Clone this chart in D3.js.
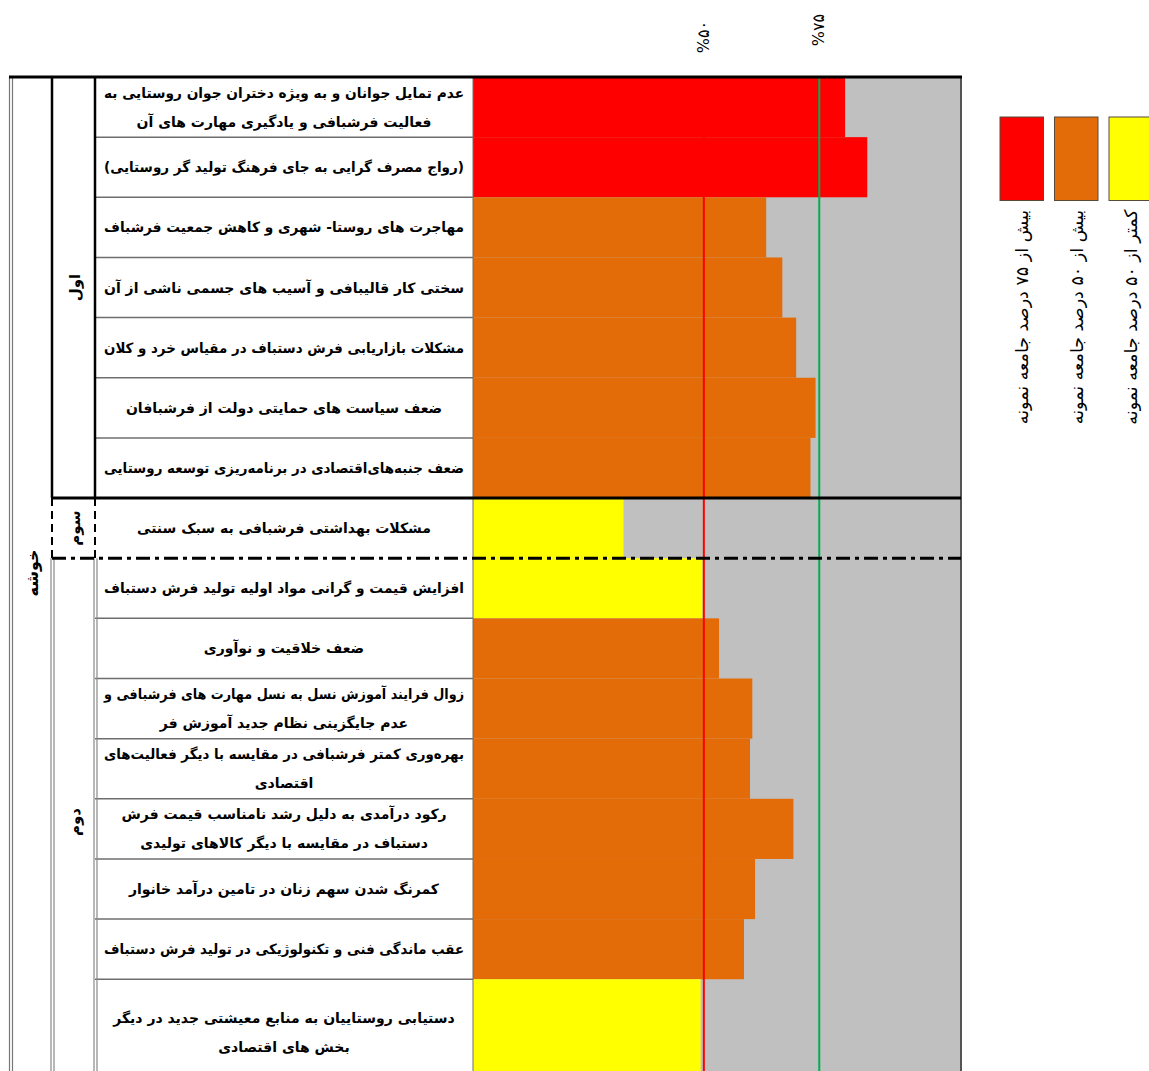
<!DOCTYPE html>
<html lang="fa">
<head>
<meta charset="utf-8">
<title>موانع فرشبافی روستایی</title>
<script src="https://cdn.jsdelivr.net/npm/d3@7"></script>
<style>
  body { margin: 0; background: #fff; }
  svg { display: block; }
  text { font-family: "DejaVu Sans", sans-serif; }
</style>
</head>
<body>
<div id="chart"></div>
<script>
// row labels (already split into lines as in the source table)
const labels = [
    ["عدم تمایل جوانان و به ویژه دختران جوان روستایی به", "فعالیت فرشبافی و یادگیری مهارت های آن"],
    ["(رواج مصرف گرایی به جای فرهنگ تولید گر روستایی)"],
    ["مهاجرت های روستا- شهری و کاهش جمعیت فرشباف"],
    ["سختی کار قالیبافی و آسیب های جسمی ناشی از آن"],
    ["مشکلات بازاریابی فرش دستباف در مقیاس خرد و کلان"],
    ["ضعف سیاست های حمایتی دولت از فرشبافان"],
    ["ضعف جنبه‌های‌اقتصادی در برنامه‌ریزی توسعه روستایی"],
    ["مشکلات بهداشتی فرشبافی به سبک سنتی"],
    ["افزایش قیمت و گرانی مواد اولیه تولید فرش دستباف"],
    ["ضعف خلاقیت و نوآوری"],
    ["زوال فرایند آموزش نسل به نسل مهارت های فرشبافی و", "عدم جایگزینی نظام جدید آموزش فر"],
    ["بهره‌وری کمتر فرشبافی در مقایسه با دیگر فعالیت‌های", "اقتصادی"],
    ["رکود درآمدی به دلیل رشد نامناسب  قیمت فرش", "دستباف در مقایسه با دیگر کالاهای تولیدی"],
    ["کمرنگ شدن سهم زنان در تامین درآمد خانوار"],
    ["عقب ماندگی فنی و تکنولوژیکی در تولید فرش دستباف"],
    ["دستیابی روستاییان به منابع معیشتی جدید در دیگر", "بخش های اقتصادی"]
];
// percent of sample
const values = [80.6, 85.4, 63.5, 67.0, 70.0, 74.2, 73.1, 32.6, 49.7, 53.3, 60.5, 60.0, 69.4, 61.1, 58.7, 49.3];
// relative row heights
const rowUnits = [1, 1, 1, 1, 1, 1, 1, 1, 1, 1, 1, 1, 1, 1, 1, 1.77];

// priority groups (first row, last row)
const groups = [
    {name: "اول", from: 0, to: 6},
    {name: "سوم", from: 7, to: 7},
    {name: "دوم", from: 8, to: 15}
];
const clusterName = "خوشه";

const thresholds = [50, 75];
const thresholdLabels = ["%۵۰", "%۷۵"];
const legendLabels = ["بیش از ۷۵ درصد جامعه نمونه", "بیش از ۵۰ درصد جامعه نمونه", "کمتر از ۵۰ درصد جامعه نمونه"];

const COLOR_LOW = "#ffff00", COLOR_MID = "#e36c09", COLOR_HIGH = "#ff0000";
const GREY = "#c0c0c0";

const W = 1149, H = 1071;
const col0 = 10, col1 = 52, col2 = 95, plotLeft = 473, plotRight = 961;
const tableTop = 77, rowStep = 60.15;

const svg = d3.select("#chart").append("svg")
    .attr("width", W)
    .attr("height", H);

// cumulative row starts
const starts = [0];
rowUnits.forEach((u, i) => starts.push(starts[i] + u));
const totalUnits = starts[starts.length - 1];

const y = d3.scaleLinear()
    .domain([0, totalUnits])
    .range([tableTop, tableTop + rowStep * totalUnits]);

const x = d3.scaleLinear()
    .domain([0, 105.7])
    .range([plotLeft, plotRight]);

const color = d3.scaleThreshold()
    .domain(thresholds)
    .range([COLOR_LOW, COLOR_MID, COLOR_HIGH]);

const rows = values.map((v, i) => ({
    value: v,
    lines: labels[i],
    y0: y(starts[i]),
    y1: y(starts[i + 1])
}));
const tableBottom = y(totalUnits);

// grey background of the bar area
svg.append("rect")
    .attr("x", x(0))
    .attr("y", tableTop)
    .attr("width", plotRight - x(0))
    .attr("height", tableBottom - tableTop)
    .attr("fill", GREY);

// bars
svg.append("g")
    .selectAll("rect")
    .data(rows)
    .join("rect")
    .attr("x", x(0))
    .attr("y", d => d.y0)
    .attr("width", d => x(d.value) - x(0))
    .attr("height", d => d.y1 - d.y0)
    .attr("fill", d => color(d.value));

// 50% and 75% reference lines
svg.append("g")
    .selectAll("line")
    .data(thresholds)
    .join("line")
    .attr("x1", d => x(d))
    .attr("x2", d => x(d))
    .attr("y1", tableTop)
    .attr("y2", tableBottom)
    .attr("stroke", (d, i) => i == 0 ? "#ff0000" : "#00b050")
    .attr("stroke-width", 2);

svg.append("g")
    .selectAll("text")
    .data(thresholds)
    .join("text")
    .attr("transform", (d, i) => `translate(${x(d) + 5},${i == 0 ? 37 : 30}) rotate(-90)`)
    .attr("text-anchor", "middle")
    .attr("direction", "ltr")
    .style("font-size", "16px")
    .text((d, i) => thresholdLabels[i]);

// label cells
const labelG = svg.append("g");
labelG.selectAll("text")
    .data(rows)
    .join("text")
    .attr("text-anchor", "middle")
    .attr("direction", "rtl")
    .style("font-size", "14px")
    .style("font-weight", "bold")
    .each(function(d) {
        const mid = (d.y0 + d.y1) / 2;
        const n = d.lines.length;
        d3.select(this).selectAll("tspan")
            .data(d.lines)
            .join("tspan")
            .attr("x", (col2 + plotLeft) / 2)
            .attr("y", (l, k) => mid + (k - (n - 1) / 2) * 29 + 5)
            .text(l => l);
    });

// shrink any line that is too wide for its cell
labelG.selectAll("tspan").each(function() {
    const w = this.getComputedTextLength();
    if (w > 360) d3.select(this).attr("textLength", 360).attr("lengthAdjust", "spacingAndGlyphs");
});

// row separators inside label column
const lines = svg.append("g").attr("fill", "none");
rows.slice(1).forEach((d, i) => {
    const r = i + 1;
    if (r == groups[1].from || r == groups[2].from) return;
    lines.append("line")
        .attr("x1", col2).attr("x2", plotLeft)
        .attr("y1", d.y0).attr("y2", d.y0)
        .attr("stroke", "#6e6e6e").attr("stroke-width", 1.5);
});

// label column right edge and plot right edge
lines.append("line")
    .attr("x1", plotLeft).attr("x2", plotLeft)
    .attr("y1", tableTop).attr("y2", tableBottom)
    .attr("stroke", "#6e6e6e").attr("stroke-width", 1);
lines.append("line")
    .attr("x1", plotRight).attr("x2", plotRight)
    .attr("y1", tableTop).attr("y2", tableBottom)
    .attr("stroke", "#555").attr("stroke-width", 2);

// outer left double line
[col0 - 0.5, col0 + 2.5].forEach(px => {
    lines.append("line")
        .attr("x1", px).attr("x2", px)
        .attr("y1", tableTop).attr("y2", tableBottom)
        .attr("stroke", "#777").attr("stroke-width", 1.2);
});

// group column borders
const g1y0 = rows[groups[0].from].y0, g1y1 = rows[groups[0].to].y1;
const g3y1 = rows[groups[1].to].y1;
[col1, col2].forEach(px => {
    // solid for first group
    lines.append("line")
        .attr("x1", px).attr("x2", px)
        .attr("y1", g1y0).attr("y2", g1y1)
        .attr("stroke", "#000").attr("stroke-width", 2.5);
    // dashed for third group
    lines.append("line")
        .attr("x1", px).attr("x2", px)
        .attr("y1", g1y1).attr("y2", g3y1)
        .attr("stroke", "#000").attr("stroke-width", 2)
        .attr("stroke-dasharray", "8,5");
    // double grey for second group
    [px - 1, px + 2].forEach(q => {
        lines.append("line")
            .attr("x1", q).attr("x2", q)
            .attr("y1", g3y1).attr("y2", tableBottom)
            .attr("stroke", "#888").attr("stroke-width", 1.2);
    });
});

// thick line between group 1 and group 3
lines.append("line")
    .attr("x1", col1).attr("x2", plotRight)
    .attr("y1", g1y1).attr("y2", g1y1)
    .attr("stroke", "#000").attr("stroke-width", 3);

// dash-dot line between group 3 and group 2
lines.append("line")
    .attr("x1", col1).attr("x2", plotRight)
    .attr("y1", g3y1).attr("y2", g3y1)
    .attr("stroke", "#000").attr("stroke-width", 3)
    .attr("stroke-dasharray", "14,5,4,5");

// top border
lines.append("line")
    .attr("x1", col0 - 1).attr("x2", plotRight + 1)
    .attr("y1", tableTop).attr("y2", tableTop)
    .attr("stroke", "#000").attr("stroke-width", 3);

// group names
svg.append("g")
    .selectAll("text")
    .data(groups)
    .join("text")
    .attr("transform", d => {
        const cy = (rows[d.from].y0 + rows[d.to].y1) / 2;
        return `translate(${(col1 + col2) / 2 + 6},${cy}) rotate(-90)`;
    })
    .attr("text-anchor", "middle")
    .attr("direction", "rtl")
    .style("font-size", "15px")
    .style("font-weight", "bold")
    .text(d => d.name);

svg.append("text")
    .attr("transform", `translate(${(col0 + col1) / 2 + 7},573) rotate(-90)`)
    .attr("text-anchor", "middle")
    .attr("direction", "rtl")
    .style("font-size", "16px")
    .style("font-weight", "bold")
    .text(clusterName);

// legend
const legendColors = [COLOR_HIGH, COLOR_MID, COLOR_LOW];
const legend = svg.append("g")
    .selectAll("g")
    .data(legendLabels)
    .join("g")
    .attr("transform", (d, i) => `translate(${1000 + i * 54.5},117)`);

legend.append("rect")
    .attr("width", 43.5)
    .attr("height", 83.5)
    .attr("fill", (d, i) => legendColors[i])
    .attr("stroke", "#5a4a3a")
    .attr("stroke-width", 1);

legend.append("text")
    .attr("transform", "translate(28,200) rotate(-90)")
    .attr("text-anchor", "middle")
    .attr("direction", "rtl")
    .style("font-size", "17.5px")
    .text(d => d);
</script>
</body>
</html>
